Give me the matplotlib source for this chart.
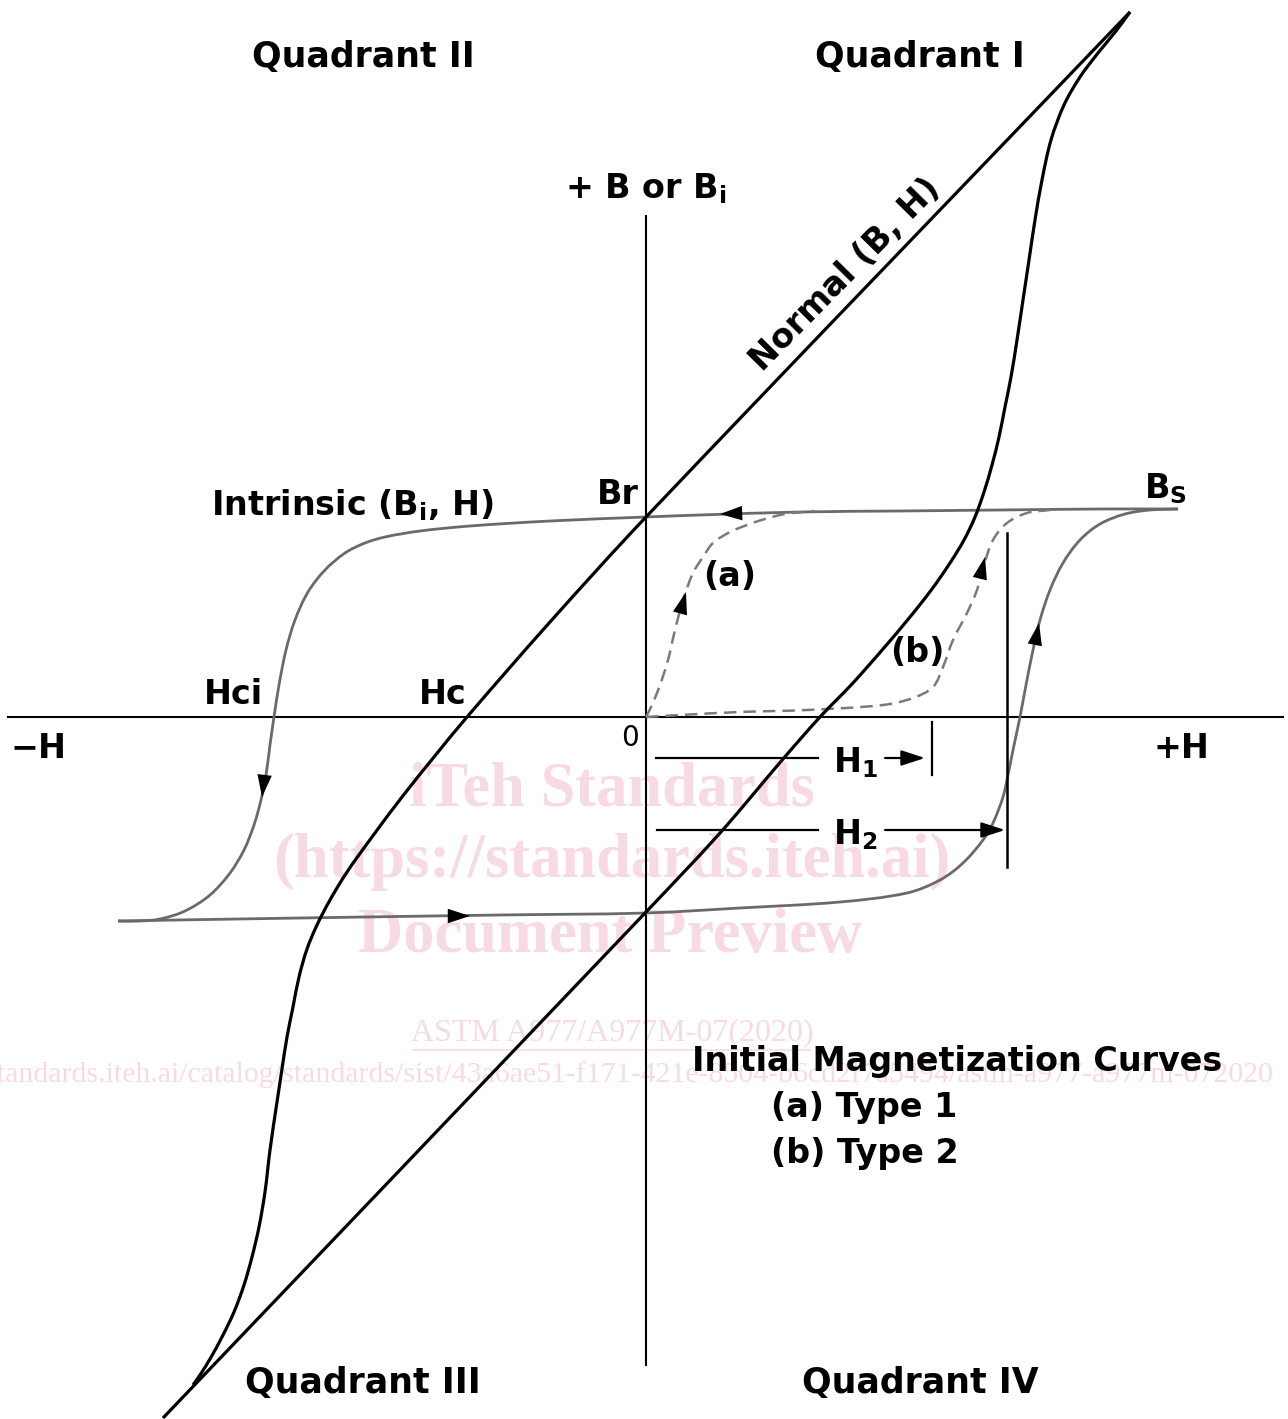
"""B-H hysteresis loop diagram: normal and intrinsic curves with initial magnetization."""

import matplotlib
matplotlib.use("Agg")
import matplotlib.pyplot as plt
import numpy as np
from matplotlib.patches import FancyArrowPatch, PathPatch
from matplotlib.path import Path

# ---- data (H, B in arbitrary units, origin at axis crossing) ----
normal_down_h = [484, 0, -96, -179, -212, -244, -274, -299, -316, -329, -339, -347, -353,
                 -359, -364, -369, -376, -381, -387, -394, -402, -412, -424, -436, -446, -453]
normal_down_b = [705, 200, 95, 0, -40, -80, -120, -155, -183, -208, -232, -260, -290,
                 -320, -352, -385, -433, -475, -510, -540, -568, -595, -620, -642, -658, -668]

normal_up_h = [-483, 0, 74, 137, 174, 206, 237, 264, 286, 304, 318, 329, 338, 346, 353,
               359, 365, 371, 377, 383, 389, 396, 405, 418, 434, 452, 470, 484]
normal_up_b = [-701, -195, -116, -42, 0, 33, 68, 100, 128, 154, 177, 200, 225, 252, 280,
               310, 340, 377, 417, 457, 497, 537, 577, 612, 640, 664, 686, 705]

intr_down_h = [532, 454, 354, 254, 154, 54, 0, -96, -176, -226, -261, -281, -301, -321,
               -338, -351, -360, -367, -372, -376, -380, -385, -392, -402, -416, -436,
               -461, -486, -506, -528]
intr_down_b = [208, 208, 207, 206, 205, 202, 200, 196, 191, 186, 180, 174, 164, 147,
               125, 97, 67, 32, 0, -28, -58, -83, -108, -133, -156, -178, -194, -202,
               -204, -204]

intr_up_h = [-528, -346, -146, 0, 94, 194, 261, 294, 317, 337, 347, 357, 362, 367, 374,
             380, 387, 394, 404, 417, 434, 454, 479, 504, 532]
intr_up_b = [-204, -201, -198, -196, -191, -185, -176, -163, -146, -123, -106, -80, -58,
             -33, 0, 32, 67, 97, 127, 154, 177, 193, 203, 207, 208]

init_a_h = [0, 6, 14, 22, 29, 37, 47, 57, 67, 84, 101, 119, 139, 169]
init_a_b = [0, 12, 32, 57, 87, 117, 144, 160, 174, 185, 192, 198, 203, 206]

init_b_h = [0, 34, 94, 161, 237, 267, 287, 297, 307, 321, 331, 338, 347, 361, 381, 404]
init_b_b = [0, 2, 5, 7, 12, 19, 30, 50, 77, 104, 127, 152, 177, 194, 204, 207]

# arrow heads on curves: (tail, tip)
curve_arrows = [((100, 204), (74, 203)),
                ((-381, -55), (-384, -80)),
                ((-200, -199), (-176, -199)),
                ((388, 68), (393, 94))]
dashed_arrows = [((33, 100), (40, 125)),
                 ((333, 135), (339, 160))]

h1_value = 286
h2_value = 361
axis_h_range = (-638, 637)
axis_b_range = (-648, 501)

WATERMARK = "#f8dae2"
BLACK = "black"
GRAY = "#6a6a6a"
DASH_GRAY = "#7a7a7a"


def smooth_path(xs, ys) -> Path:
    """Cubic Bezier path through the read points (tangents from neighbours)."""
    pts = np.column_stack([xs, ys]).astype(float)
    n = len(pts)
    tang = np.zeros_like(pts)
    for i in range(n):
        a = pts[max(i - 1, 0)]
        b = pts[min(i + 1, n - 1)]
        d = b - a
        tang[i] = d / np.hypot(*d)
    verts = [pts[0]]
    codes = [Path.MOVETO]
    for i in range(n - 1):
        seg = np.hypot(*(pts[i + 1] - pts[i])) / 3.0
        verts += [pts[i] + tang[i] * seg, pts[i + 1] - tang[i + 1] * seg, pts[i + 1]]
        codes += [Path.CURVE4] * 3
    return Path(verts, codes)


def curve(ax, xs, ys, color, lw, ls="-", z=3):
    ax.add_patch(PathPatch(smooth_path(xs, ys), fill=False, edgecolor=color, lw=lw,
                           ls=ls, capstyle="butt", joinstyle="round", zorder=z))


def arrow(ax, tail, tip, color, lw=0.0, scale=20):
    ax.add_patch(FancyArrowPatch(tail, tip, arrowstyle="-|>,head_length=0.8,head_width=0.26",
                                 mutation_scale=scale, color=color, lw=lw,
                                 shrinkA=0, shrinkB=0, zorder=6))


def main() -> None:
    plt.rcParams["mathtext.default"] = "bf"
    plt.rcParams["font.family"] = ["DejaVu Sans"]

    fig = plt.figure(figsize=(12.88, 14.19), dpi=100)
    ax = fig.add_axes([0, 0, 1, 1])
    ax.set_xlim(-646, 642)
    ax.set_ylim(-702, 717)
    ax.axis("off")

    # watermark (behind everything)
    wm = dict(family="Liberation Serif", color=WATERMARK, ha="center", va="center", zorder=0)
    ax.text(-34, -73, "iTeh Standards", fontsize=45, fontweight="bold", **wm)
    ax.text(-34, -145, "(https://standards.iteh.ai)", fontsize=45, fontweight="bold", **wm)
    ax.text(-36, -220, "Document Preview", fontsize=45, fontweight="bold", **wm)
    ax.text(-34, -316, "ASTM A977/A977M-07(2020)", fontsize=23, **wm)
    ax.plot([-233, 164], [-333, -333], color=WATERMARK, lw=1.2, zorder=0)
    ax.text(-743, -358,
            "https://standards.iteh.ai/catalog/standards/sist/43a6ae51-f171-421e-8504-b6cd2f7a5494/astm-a977-a977m-072020",
            family="Liberation Serif", color=WATERMARK, fontsize=21.5, ha="left", va="center", zorder=0)

    # axes lines
    ax.plot(axis_h_range, [0, 0], color=BLACK, lw=1.5, zorder=2)
    ax.plot([0, 0], axis_b_range, color=BLACK, lw=1.5, zorder=2)

    # curves
    curve(ax, intr_down_h, intr_down_b, GRAY, 2.0)
    curve(ax, intr_up_h, intr_up_b, GRAY, 2.0)
    curve(ax, init_a_h, init_a_b, DASH_GRAY, 1.8, ls=(0, (5, 2.8)))
    curve(ax, init_b_h, init_b_b, DASH_GRAY, 1.8, ls=(0, (5, 2.8)))
    curve(ax, normal_down_h, normal_down_b, BLACK, 2.3, z=4)
    curve(ax, normal_up_h, normal_up_b, BLACK, 2.3, z=4)

    for tail, tip in curve_arrows + dashed_arrows:
        arrow(ax, tail, tip, BLACK)

    # H1 / H2 markers
    ax.plot([10, 172], [-41, -41], color=BLACK, lw=1.6, zorder=5)
    arrow(ax, (239, -41), (h1_value - 7, -41), BLACK, lw=1.6, scale=18)
    ax.plot([h1_value, h1_value], [-5, -58], color=BLACK, lw=1.6, zorder=5)
    ax.plot([11, 172], [-113, -113], color=BLACK, lw=1.6, zorder=5)
    arrow(ax, (239, -113), (h2_value - 2, -113), BLACK, lw=1.6, scale=18)
    ax.plot([h2_value, h2_value], [184, -150], color=BLACK, lw=1.8, zorder=5)

    # labels
    lab = dict(fontweight="bold", ha="center", va="center", zorder=7)
    ax.text(-283, 660, "Quadrant II", fontsize=25, **lab)
    ax.text(274, 660, "Quadrant I", fontsize=25, **lab)
    ax.text(-283, -666, "Quadrant III", fontsize=25, **lab)
    ax.text(274, -666, "Quadrant IV", fontsize=25, **lab)
    ax.text(0, 528, "+ B or B$_i$", fontsize=24, **lab)
    ax.text(199, 442, "Normal (B, H)", fontsize=24, rotation=45.5, rotation_mode="anchor", **lab)
    ax.text(-293, 212, "Intrinsic (B$_i$, H)", fontsize=24, **lab)
    ax.text(-28, 222, "Br", fontsize=24, **lab)
    ax.text(519, 228, "B$_S$", fontsize=24, **lab)
    ax.text(-413, 22, "Hci", fontsize=24, **lab)
    ax.text(-203, 22, "Hc", fontsize=24, **lab)
    ax.text(84, 141, "(a)", fontsize=24, **lab)
    ax.text(271, 64, "(b)", fontsize=24, **lab)
    ax.text(-16, -21, "0", fontsize=20, ha="center", va="center", zorder=7)
    ax.text(-608, -31, "\u2212H", fontsize=24, **lab)
    ax.text(535, -31, "+H", fontsize=24, **lab)
    ax.text(209, -46, "H$_1$", fontsize=24, **lab)
    ax.text(209, -118, "H$_2$", fontsize=24, **lab)

    left = dict(fontweight="bold", ha="left", va="center", fontsize=24, zorder=7)
    ax.text(46, -345, "Initial Magnetization Curves", **left)
    ax.text(125, -391, "(a) Type 1", **left)
    ax.text(125, -437, "(b) Type 2", **left)

    fig.savefig("out.png", dpi=100, facecolor="white")
    plt.close(fig)


if __name__ == "__main__":
    main()
